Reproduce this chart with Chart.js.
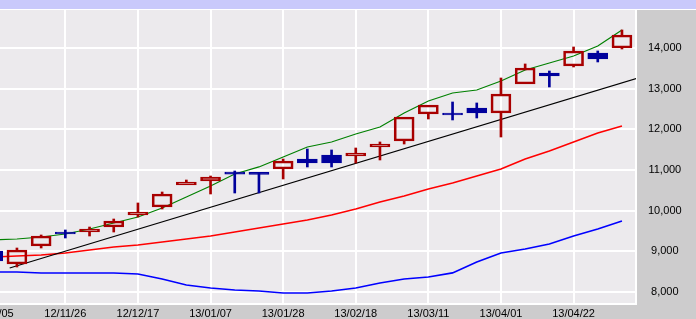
<!DOCTYPE html>
<html>
<head>
<meta charset="utf-8">
<script src="https://cdn.jsdelivr.net/npm/chart.js@4/dist/chart.umd.min.js"></script>
<style>
  html, body { margin: 0; padding: 0; background: #fff; }
  #chart { display: block; }
</style>
</head>
<body>
<canvas id="chart" width="696" height="319"></canvas>
<script>
// weekly candles, one per monday
const weeks = ['12/11/05', '12/11/12', '12/11/19', '12/11/26', '12/12/03', '12/12/10', '12/12/17', '12/12/24', '12/12/31',
  '13/01/07', '13/01/14', '13/01/21', '13/01/28', '13/02/04', '13/02/11', '13/02/18', '13/02/25', '13/03/04',
  '13/03/11', '13/03/18', '13/03/25', '13/04/01', '13/04/08', '13/04/15', '13/04/22', '13/04/29', '13/05/06'];
const xTickLabels = ['12/11/05', '12/11/26', '12/12/17', '13/01/07', '13/01/28', '13/02/18', '13/03/11', '13/04/01', '13/04/22'];
const yTicks = [8000, 9000, 10000, 11000, 12000, 13000, 14000];

const open = [9008, 8689, 9131, 9475, 9475, 9598, 9893, 10090, 10631, 10729, 10950, 10940, 11025, 11270, 11369, 11344, 11566, 11713, 12377, 12402, 12525, 12402, 13115, 13385, 13557, 13877, 14000];
const high = [9060, 9082, 9402, 9525, 9598, 9795, 10189, 10459, 10754, 10852, 10975, 10940, 11270, 11516, 11492, 11541, 11689, 12303, 12598, 12672, 12648, 13262, 13607, 13434, 14025, 13926, 14443];
const low = [8740, 8615, 9082, 9328, 9377, 9475, 9844, 10041, 10631, 10410, 10434, 10434, 10779, 11074, 11074, 11172, 11246, 11639, 12254, 12230, 12279, 11811, 13115, 13041, 13533, 13656, 13975];
const close = [8762, 9033, 9377, 9426, 9549, 9746, 9967, 10410, 10705, 10828, 10900, 10890, 11221, 11172, 11172, 11418, 11639, 12303, 12598, 12352, 12402, 12869, 13508, 13311, 13926, 13730, 14320];

// overlays
const upperBand = [9279, 9303, 9352, 9426, 9549, 9697, 9844, 10066, 10336, 10607, 10902, 11075, 11320, 11566, 11689, 11885, 12057, 12402, 12697, 12893, 12967, 13188, 13459, 13631, 13803, 14049, 14443];
const movingAvg = [8861, 8885, 8910, 8959, 9033, 9107, 9156, 9230, 9303, 9377, 9475, 9574, 9672, 9770, 9893, 10041, 10213, 10361, 10533, 10680, 10852, 11025, 11270, 11467, 11689, 11910, 12082];
const lowerBand = [8492, 8492, 8467, 8467, 8467, 8467, 8443, 8320, 8172, 8098, 8049, 8025, 7975, 7975, 8025, 8098, 8221, 8320, 8369, 8470, 8738, 8959, 9057, 9180, 9377, 9549, 9746];
const trendWeeks = [0.7, 26.6];
const trendValues = [8590, 13253];

const upColor = '#a80000';
const downColor = '#00009c';
const font = { family: '"Liberation Sans", Arial, sans-serif', size: 11 };

// split candles into up (hollow red) and down (filled blue)
const upBodies = [], upWicks = [], downBodies = [], downWicks = [];
weeks.forEach((w, i) => {
  const top = Math.max(open[i], close[i]);
  const bot = Math.min(open[i], close[i]);
  if (close[i] >= open[i]) {
    upBodies.push({ x: i, y: [bot, top] });
    if (high[i] > top) upWicks.push({ x: i, y: [top, high[i]] });
    if (low[i] < bot) upWicks.push({ x: i, y: [low[i], bot] });
  } else {
    downBodies.push({ x: i, y: [bot, top] });
    downWicks.push({ x: i, y: [low[i], high[i]] });
  }
});

const series = arr => arr.map((v, i) => ({ x: i, y: v }));
const lineSet = (data, color, width) => ({
  type: 'line', data, borderColor: color, borderWidth: width,
  pointRadius: 0, tension: 0, fill: false, order: 2
});
const barSet = (data, thickness, fill, border, bw) => ({
  type: 'bar', data, barThickness: thickness, grouped: false,
  backgroundColor: fill, borderColor: border, borderWidth: bw, borderSkipped: false, order: 1
});

// panels behind the plot
const backdrop = {
  id: 'backdrop',
  beforeDraw(chart) {
    const { ctx, chartArea: a, width, height } = chart;
    ctx.save();
    ctx.fillStyle = '#cdcccd';
    ctx.fillRect(0, 0, width, height);
    ctx.fillStyle = '#c9c9fb';
    ctx.fillRect(0, 0, width, 9);
    ctx.fillStyle = '#fff';
    ctx.fillRect(0, 9, width, 1);
    ctx.fillStyle = '#eceaed';
    ctx.fillRect(a.left, a.top, a.right - a.left, a.bottom - a.top);
    ctx.restore();
  }
};

new Chart(document.getElementById('chart'), {
  type: 'bar',
  data: {
    datasets: [
      lineSet(series(upperBand), '#008000', 1.2),
      lineSet(trendWeeks.map((w, i) => ({ x: w, y: trendValues[i] })), '#000', 1.2),
      lineSet(series(movingAvg), '#ff0000', 1.6),
      lineSet(series(lowerBand), '#0000ff', 1.6),
      barSet(upWicks, 2, upColor, upColor, 0),
      barSet(downWicks, 2, downColor, downColor, 0),
      barSet(upBodies, 20, 'rgba(0,0,0,0)', upColor, 2),
      barSet(downBodies, 20, downColor, downColor, 1)
    ]
  },
  options: {
    responsive: false,
    animation: false,
    events: [],
    layout: { padding: { top: 10, left: 0, right: 0, bottom: 0 } },
    plugins: { legend: { display: false }, tooltip: { enabled: false } },
    scales: {
      x: {
        type: 'linear', min: 0.3, max: 26.58, offset: false,
        afterBuildTicks: s => { s.ticks = xTickLabels.map(l => ({ value: weeks.indexOf(l) })); },
        afterFit: s => { s.height = 15; s.paddingLeft = 0; s.paddingRight = 0; },
        grid: { color: '#fff', lineWidth: 2, drawTicks: false, offset: false },
        border: { color: '#fff', width: 2 },
        ticks: { autoSkip: false, maxRotation: 0, padding: 3, color: '#000', font, callback: v => weeks[v] }
      },
      y: {
        type: 'linear', position: 'right', min: 7705, max: 14934,
        afterBuildTicks: s => { s.ticks = yTicks.map(v => ({ value: v })); },
        afterFit: s => { s.width = 60; s.paddingTop = 0; s.paddingBottom = 0; },
        grid: { color: '#fff', lineWidth: 2, drawTicks: false },
        border: { color: '#fff', width: 2 },
        ticks: { padding: 12, crossAlign: 'center', color: '#000', font, callback: v => v.toLocaleString('en-US') }
      }
    }
  },
  plugins: [backdrop]
});
</script>
</body>
</html>
